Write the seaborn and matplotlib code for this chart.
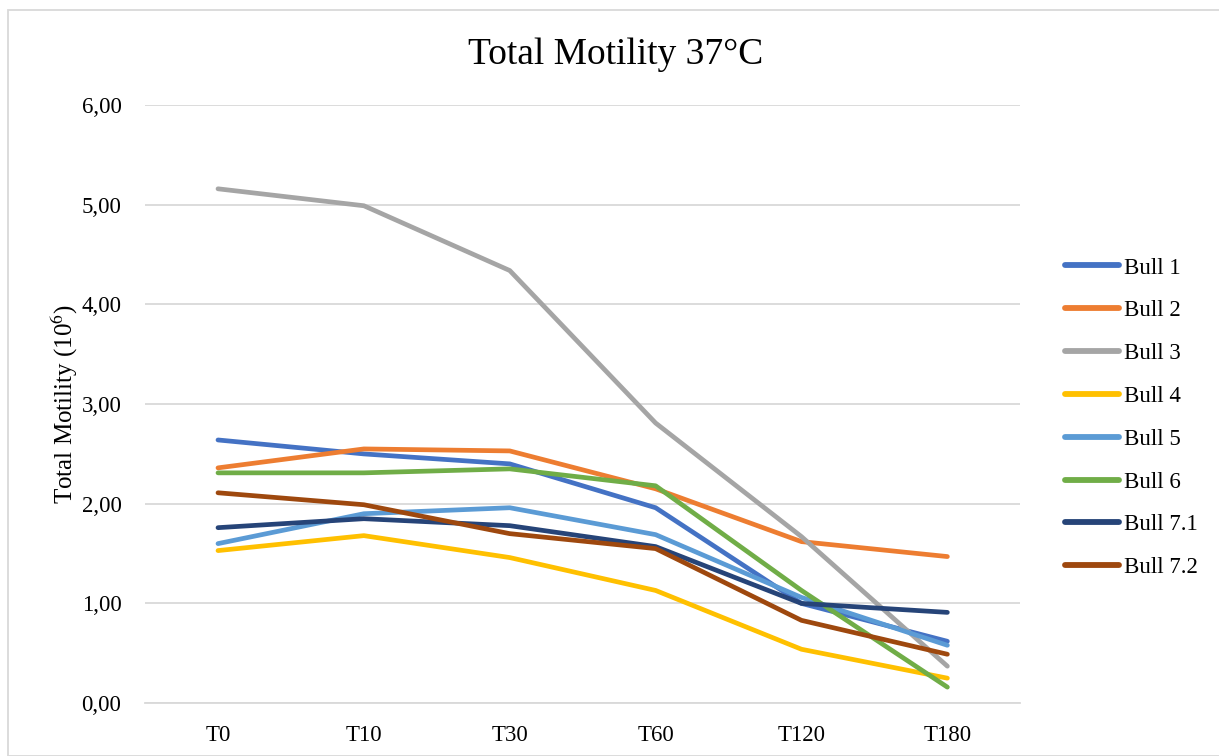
import matplotlib
matplotlib.use("Agg")
import matplotlib.pyplot as plt
import seaborn as sns
import pandas as pd
from matplotlib.ticker import FuncFormatter
from matplotlib.patches import Rectangle

times = ["T0", "T10", "T30", "T60", "T120", "T180"]
bull_1 = [2.64, 2.50, 2.40, 1.96, 1.00, 0.62]
bull_2 = [2.36, 2.55, 2.53, 2.15, 1.62, 1.47]
bull_3 = [5.16, 4.99, 4.34, 2.81, 1.67, 0.37]
bull_4 = [1.53, 1.68, 1.46, 1.13, 0.54, 0.25]
bull_5 = [1.60, 1.90, 1.96, 1.69, 1.06, 0.58]
bull_6 = [2.31, 2.31, 2.35, 2.18, 1.13, 0.16]
bull_71 = [1.76, 1.85, 1.78, 1.57, 1.00, 0.91]
bull_72 = [2.11, 1.99, 1.70, 1.55, 0.83, 0.49]

series = {
    "Bull 1": bull_1, "Bull 2": bull_2, "Bull 3": bull_3, "Bull 4": bull_4,
    "Bull 5": bull_5, "Bull 6": bull_6, "Bull 7.1": bull_71, "Bull 7.2": bull_72,
}
colors = ["#4472C4", "#ED7D31", "#A5A5A5", "#FFC000", "#5B9BD5", "#70AD47", "#264478", "#9E480E"]

rows = []
for name, vals in series.items():
    for i, (t, v) in enumerate(zip(times, vals)):
        rows.append({"idx": i, "Time": t, "Value": v, "Bull": name})
df = pd.DataFrame(rows)

sns.set_theme(style="white")
plt.rcParams["font.family"] = ["Liberation Serif", "DejaVu Serif"]
plt.rcParams["mathtext.fontset"] = "stix"
plt.rcParams["text.color"] = "black"

fig = plt.figure(figsize=(12.19, 7.56), dpi=100)
ax = fig.add_axes([0.119, 0.070, 0.718, 0.791])

sns.lineplot(data=df, x="idx", y="Value", hue="Bull", hue_order=list(series.keys()),
             palette=colors, linewidth=3.4, ax=ax, sort=False)
for ln in ax.get_lines():
    ln.set_solid_capstyle("round")
    ln.set_solid_joinstyle("round")

ax.set_xlim(-0.5, 5.5)
ax.set_ylim(0, 6)
ax.set_yticks([0, 1, 2, 3, 4, 5, 6])
ax.yaxis.set_major_formatter(FuncFormatter(lambda v, p: f"{v:.2f}".replace(".", ",")))
ax.set_xticks(range(len(times)))
ax.set_xticklabels(times)
ax.tick_params(axis="both", length=0, labelsize=16.5, colors="#000000")
ax.tick_params(axis="x", pad=16)
ax.tick_params(axis="y", pad=17)
ax.grid(axis="y", color="#D9D9D9", linewidth=1.3)
ax.set_axisbelow(True)
for s in ["top", "right", "left"]:
    ax.spines[s].set_visible(False)
ax.spines["bottom"].set_color("#D9D9D9")
ax.spines["bottom"].set_linewidth(1.3)
ax.set_xlabel("")
ax.set_ylabel("Total Motility (10$^6$)", fontsize=18, labelpad=1, color="black")
fig.text(616 / 1219, 1 - 55 / 756, "Total Motility 37°C", fontsize=27, color="black",
         ha="center", va="center")

leg = ax.legend(loc="center left", bbox_to_anchor=(1.028, 0.477), frameon=False,
                fontsize=16.5, handlelength=2.35, handletextpad=0.2, labelspacing=0.95)
for h in leg.get_lines():
    h.set_linewidth(4.2)
    h.set_solid_capstyle("round")
for t in leg.get_texts():
    t.set_color("black")

fig.patches.append(Rectangle((8 / 1219, 0), 1.2, 1 - 10 / 756, transform=fig.transFigure,
                             fill=False, edgecolor="#D9D9D9", linewidth=1.3))

fig.savefig("out.png", dpi=100)
